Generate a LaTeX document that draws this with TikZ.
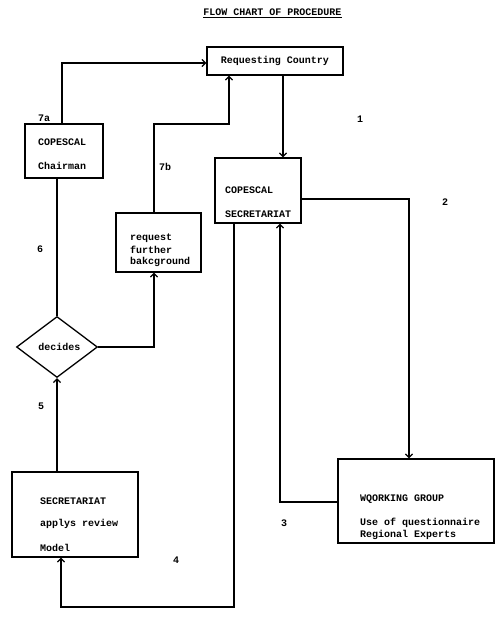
\documentclass[tikz,border=0pt]{standalone}
\usepackage{fontspec}
\setmonofont{Liberation Mono}
\usetikzlibrary{arrows.meta,shapes.geometric}
\tikzset{
  box/.style={draw,line width=1.3pt,inner sep=0pt},
  txt/.style={font=\ttfamily\bfseries\fontsize{10}{12}\selectfont,inner sep=0pt,anchor=west},
  lbl/.style={font=\ttfamily\bfseries\fontsize{10}{12}\selectfont,inner sep=0pt},
  conn/.style={line width=1.3pt},
  arr/.style={conn,-{Straight Barb[length=3.5pt,width=7pt,line width=1.3pt]}}
}
\begin{document}
\begin{tikzpicture}[x=1pt,y=-1pt]
\useasboundingbox (0,0) rectangle (500,618);
% title
\node[lbl] (title) at (272.5,12) {FLOW CHART OF PROCEDURE};
\draw[line width=0.9pt] (title.west |- 0,17) -- (title.east |- 0,17);
% boxes
\node[box,minimum width=136pt,minimum height=28pt,font=\ttfamily\bfseries\fontsize{10}{12}\selectfont] (req) at (275,61) {Requesting Country};
\node[box,minimum width=78pt,minimum height=54pt] (chair) at (64,151) {};
\node[txt] (chair1) at (38,142) {COPESCAL};
\node[txt] (chair2) at (38,166) {Chairman};
\node[box,minimum width=85pt,minimum height=59pt] (rq) at (158.5,242.5) {};
\node[txt] (rq1) at (130,238) {request};
\node[txt] (rq2) at (130,250) {further};
\node[txt] (rq3) at (130,262) {bakcground};
\node[box,minimum width=86pt,minimum height=65pt] (sec) at (258,190.5) {};
\node[txt] (sec1) at (225,190) {COPESCAL};
\node[txt] (sec2) at (225,214) {SECRETARIAT};
\node[box,minimum width=156pt,minimum height=84pt] (wg) at (416,501) {};
\node[txt] (wg1) at (360,499) {WQORKING GROUP};
\node[txt] (wg2) at (360,523) {Use of questionnaire};
\node[txt] (wg3) at (360,535) {Regional Experts};
\node[box,minimum width=126pt,minimum height=85pt] (rev) at (75,514.5) {};
\node[txt] (rev1) at (40,501) {SECRETARIAT};
\node[txt] (rev2) at (40,524) {applys review};
\node[txt] (rev3) at (40,548) {Model};
\node[box,diamond,minimum width=81pt,minimum height=61pt] (dec) at (57,347) {};
\node[lbl] (dect) at (59.5,347) {decides};
% labels
\node[lbl] (l7a) at (44,118) {7a};
\node[lbl] (l7b) at (165,167) {7b};
\node[lbl] (l1) at (360,119) {1};
\node[lbl] (l2) at (445,202) {2};
\node[lbl] (l3) at (284,523) {3};
\node[lbl] (l4) at (176,560) {4};
\node[lbl] (l5) at (41,406) {5};
\node[lbl] (l6) at (40,249) {6};
% connectors
\draw[arr] (chair.north -| 62,0) |- (req.west |- 0,63);
\draw[arr] (rq.north -| 154,0) |- (229,124) -- (req.south -| 229,0);
\draw[arr] (req.south -| 283,0) -- (sec.north -| 283,0);
\draw[arr] (sec.east |- 0,199) -| (wg.north -| 409,0);
\draw[arr] (wg.west |- 0,502) -| (sec.south -| 280,0);
\draw[arr] (sec.south -| 234,0) |- (61,607) -- (rev.south -| 61,0);
\draw[arr] (rev.north -| dec.south) -- (dec.south);
\draw[conn] (dec.north) -- (chair.south -| dec.north);
\draw[arr] (dec.east) -| (rq.south -| 154,0);
\end{tikzpicture}
\end{document}
